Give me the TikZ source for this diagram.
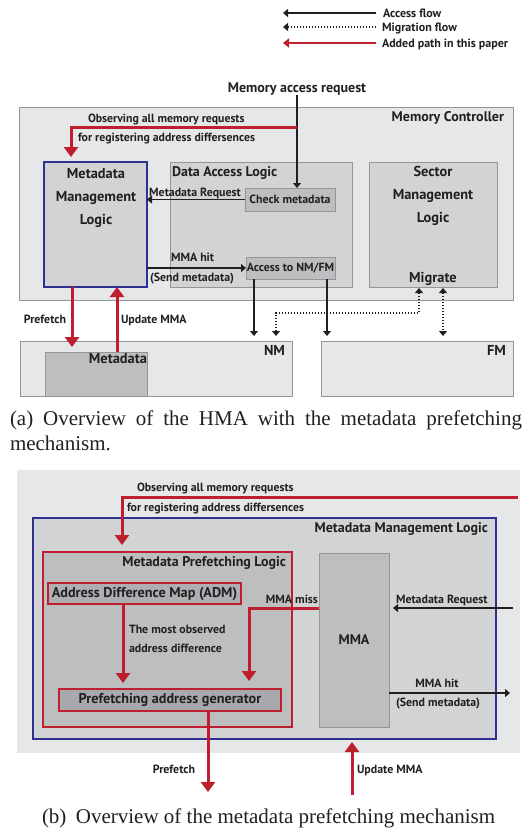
\documentclass[tikz,border=0pt]{standalone}
\usepackage{fontspec}
\setmainfont{Liberation Serif}
\newfontfamily\lab{PT Sans}
\usetikzlibrary{arrows.meta}
\definecolor{lg}{HTML}{E6E7E8}
\definecolor{mg}{HTML}{D1D3D4}
\definecolor{dg}{HTML}{BCBEC0}
\definecolor{ddg}{HTML}{A7A9AC}
\definecolor{bd}{HTML}{939598}
\definecolor{myred}{HTML}{BE1E2D}
\definecolor{myblue}{HTML}{2E3192}
\definecolor{ink}{HTML}{231F20}
\tikzset{
  box/.style={draw=bd, line width=0.9pt, inner sep=0pt, outer sep=0pt, anchor=north west},
  bluebox/.style={box, draw=myblue, line width=2pt, fill=mg},
  redbox/.style={box, draw=myred},
  bt/.style={inner sep=0pt, outer sep=0pt, text=ink, font=\lab\bfseries\fontsize{11.9}{14}\selectfont},
  t/.style={bt, yshift=-2pt},
  tm/.style={t, font=\lab\bfseries\fontsize{14}{16}\selectfont},
  tl/.style={t, font=\lab\bfseries\fontsize{14.4}{17}\selectfont},
  ts/.style={t, font=\lab\bfseries\fontsize{11.8}{14}\selectfont},
  tleg/.style={t, font=\lab\bfseries\fontsize{12}{14}\selectfont},
  blk/.style={draw=ink, line width=1.2pt, -{Triangle[width=8pt,length=5pt]}},
  redarr/.style={draw=myred, line width=3pt, -{Triangle[width=14pt,length=10pt]}},
  dots/.style={draw=ink, line width=1.2pt, dash pattern=on 1.2pt off 1.8pt,
    {Triangle[width=8pt,length=5pt]}-{Triangle[width=8pt,length=5pt]}},
  captext/.style={inner sep=0pt, outer sep=0pt, text=ink, font=\fontsize{21}{25}\selectfont}
}
\begin{document}
\begin{tikzpicture}[x=1pt, y=-1pt]
\useasboundingbox (0,0) rectangle (528,831);
% ---------------- legend
\node[tleg, anchor=mid west] (lg1) at (383,13) {Access flow};
\node[tleg, anchor=mid west] (lg2) at (382,27) {Migration flow};
\node[tleg, anchor=mid west] (lg3) at (382,43) {Added path in this paper};
\draw[blk] ([xshift=-7pt,yshift=2pt]lg1.mid west) -- ++(-93,0);
\draw[draw=ink, line width=1.2pt, dash pattern=on 1.2pt off 1.8pt, -{Triangle[width=8pt,length=5pt]}] ([xshift=-6pt,yshift=2pt]lg2.mid west) -- ++(-93,0);
\draw[draw=myred, line width=2.4pt, -{Triangle[width=9pt,length=6pt]}] ([xshift=-6pt,yshift=2pt]lg3.mid west) -- ++(-93,0);
% ---------------- (a)
\node[tm, anchor=mid] (mar) at (297,88) {Memory access request};
\node[box, fill=lg, minimum width=494pt, minimum height=193pt] (mc) at (19,107) {};
\node[tm, anchor=mid east] (mcl) at (504,117) {Memory Controller};
\node[bluebox, minimum width=103pt, minimum height=125pt] (mml) at (44,162) {};
\node[tl, anchor=mid] (mml1) at (96,174) {Metadata};
\node[tl, anchor=mid] (mml2t) at (96,197) {Management};
\node[tl, anchor=mid] (mml3) at (96,220) {Logic};
\node[box, fill=mg, minimum width=182pt, minimum height=125pt] (dal) at (170,162) {};
\node[tm, anchor=mid west] (dall) at (172,172) {Data Access Logic};
\node[box, fill=dg, minimum width=90pt, minimum height=23pt, bt] (chk) at (245,188) {Check metadata};
\node[box, fill=dg, minimum width=89pt, minimum height=22pt, bt] (acc) at (246,257) {Access to NM/FM};
\node[box, fill=mg, minimum width=128pt, minimum height=125pt] (sml) at (369,162) {};
\node[tl, anchor=mid] (sml1) at (433,172) {Sector};
\node[tl, anchor=mid] (sml2) at (433,195) {Management};
\node[tl, anchor=mid] (sml3) at (433,218) {Logic};
\node[tl, anchor=mid] (mig) at (433,278) {Migrate};
\node[box, fill=lg, minimum width=272pt, minimum height=55pt] (nm) at (20,341) {};
\node[box, fill=lg, minimum width=192pt, minimum height=55pt] (fm) at (321,341) {};
\node[box, fill=dg, minimum width=102pt, minimum height=44pt] (meta) at (45,352) {};
\node[tl, anchor=mid east] (nml) at (285,351) {NM};
\node[tl, anchor=mid east] (fml) at (506,351) {FM};
\node[tl, anchor=mid east] (metal) at (147,359) {Metadata};
% texts (a)
\node[ts, anchor=mid west] (obs1) at (88,118) {Observing all memory requests};
\node[ts, anchor=mid west] (obs2t) at (78,137) {for registering address differsences};
\node[t, anchor=mid] (mreqa) at (195,192) {Metadata Request};
\node[t, anchor=mid west] (hita) at (171,257) {MMA hit};
\node[t, anchor=mid west] (senda) at (150,277) {(Send metadata)};
\node[t, anchor=mid east] (pfa) at (66,319) {Prefetch};
\node[t, anchor=mid west] (uma) at (121,319) {Update MMA};
% connectors (a)
\draw[blk] (mar.south) -- (mar.south |- chk.north);
\coordinate (obsa) at (297,127);
\draw[redarr, shorten >=5pt] (obsa) -| ([xshift=27pt]mml.north west);
\draw[blk] (chk.west) -- (chk.west -| mml.east);
\draw[blk] (acc.west -| mml.east) -- (acc.west);
\draw[blk, shorten >=5pt] ([xshift=8pt]acc.south west) -- ([xshift=8pt]acc.south west |- nm.north);
\draw[blk, shorten >=5pt] ([xshift=81pt]acc.south west) -- ([xshift=81pt]acc.south west |- fm.north);
\draw[redarr, shorten >=5pt] ([xshift=28pt]mml.south west) -- ([xshift=28pt]mml.south west |- meta.north);
\draw[redarr] ([xshift=73pt]mml.south west |- meta.north) -- ([xshift=73pt]mml.south west);
\draw[dots, shorten <=5pt, shorten >=1pt] ([xshift=-16pt]nm.north east) -- ++(0,-28) -| ([xshift=50pt]sml.south west);
\draw[dots, shorten <=1pt, shorten >=5pt] ([xshift=74pt]sml.south west) -- ([xshift=74pt]sml.south west |- fm.north);
% caption (a)
\node[captext, anchor=base west] (capa1) at (10,425) {\makebox[512pt][s]{(a) Overview of the HMA with the metadata prefetching}};
\node[captext, anchor=base west] (capa2) at (10,450) {mechanism.};
% ---------------- (b)
\node[box, draw=none, fill=lg, minimum width=503pt, minimum height=283pt] (outb) at (17,470) {};
\node[bluebox, minimum width=463pt, minimum height=221pt] (mmlb) at (33,518) {};
\node[tm, anchor=mid east] (mmlbl) at (488,528) {Metadata Management Logic};
\node[redbox, fill=dg, line width=1.3pt, minimum width=249pt, minimum height=175pt] (mpl) at (43,552) {};
\node[tm, anchor=mid east] (mpll) at (286,562) {Metadata Prefetching Logic};
\node[redbox, fill=ddg!70!dg, line width=1.8pt, minimum width=193pt, minimum height=21pt, bt, font=\lab\bfseries\fontsize{14.2}{17}\selectfont] (adm) at (48,583) {Address Difference Map (ADM)};
\node[redbox, fill=ddg, line width=1.5pt, minimum width=222pt, minimum height=22pt, bt, font=\lab\bfseries\fontsize{14.2}{17}\selectfont] (pag) at (59,689) {Prefetching address generator};
\node[box, fill=dg, minimum width=70pt, minimum height=174pt] (mma) at (319,553) {};
\node[tm, anchor=mid] (mmal) at (354,640) {MMA};
% texts (b)
\node[ts, anchor=mid west] (obsb1) at (137,487) {Observing all memory requests};
\node[ts, anchor=mid west] (obsb2) at (127,507) {for registering address differsences};
\node[t, anchor=mid west] (most1) at (129,629) {The most observed};
\node[t, anchor=mid west] (most2) at (129,648) {address difference};
\node[t, anchor=mid east] (missl) at (318,599) {MMA miss};
\node[t, anchor=mid west] (mreqb) at (396,599) {Metadata Request};
\node[t, anchor=mid] (hitb) at (437,683) {MMA hit};
\node[t, anchor=mid west] (sendb) at (396,702) {(Send metadata)};
\node[t, anchor=mid east] (pfb) at (195,769) {Prefetch};
\node[t, anchor=mid west] (umb) at (357,769) {Update MMA};
% connectors (b)
\coordinate (obsbc) at (518,497);
\draw[redarr, shorten >=7pt] (obsbc) -| ([xshift=79pt]mpl.north west);
\draw[redarr, shorten >=6pt] ([xshift=75pt]adm.south west) -- ([xshift=75pt]adm.south west |- pag.north);
\draw[redarr, shorten >=8pt] ([yshift=-55pt]mma.north west) -| ([xshift=190pt]pag.north west);
\coordinate (mreqc) at (513,608);
\draw[blk, shorten >=4pt] (mreqc) -- (mreqc -| mma.east);
\coordinate (mhitc) at (510,693);
\draw[blk] (mhitc -| mma.east) -- (mhitc);
\coordinate (pfc) at (208,792);
\draw[redarr] ([xshift=149pt]pag.south west) -- ([xshift=149pt]pag.south west |- pfc);
\coordinate (umc) at (352,795);
\draw[redarr, shorten >=3pt] (umc) -- (umc |- mmlb.south);
% caption (b)
\node[captext, anchor=base west] (capb) at (42,823) {(b)\hspace{0.45em}Overview of the metadata prefetching mechanism};
\end{tikzpicture}
\end{document}
